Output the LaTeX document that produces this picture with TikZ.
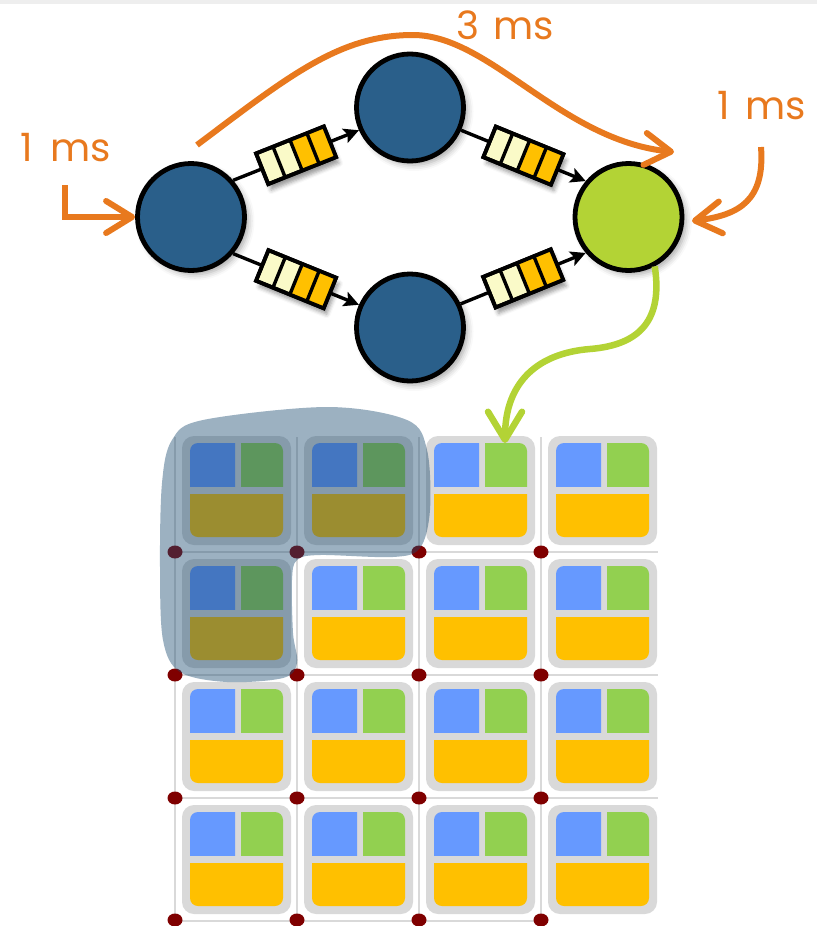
\documentclass[tikz,border=0pt]{standalone}
\usepackage{fontspec}
\setmainfont{Poppins}
\usetikzlibrary{arrows.meta,shadows.blur,calc}

\definecolor{nodeblue}{HTML}{2A5F8A}
\definecolor{nodegreen}{HTML}{B3D335}
\definecolor{latency}{HTML}{E8791E}
\definecolor{qpale}{HTML}{FAFAC8}
\definecolor{qgold}{HTML}{FFC000}
\definecolor{tgray}{HTML}{D9D9D9}
\definecolor{tblue}{HTML}{6699FF}
\definecolor{tgreen}{HTML}{92D050}
\definecolor{tyellow}{HTML}{FFC000}
\definecolor{dotred}{HTML}{7F0000}
\definecolor{region}{HTML}{194A70}
\definecolor{stripgray}{HTML}{EEEEEE}

\pgfdeclarelayer{curves}
\pgfsetlayers{main,curves}

\tikzset{
  op/.style={circle, draw=black, line width=4.8pt, minimum size=107pt, inner sep=0pt,
    blur shadow={shadow xshift=4pt, shadow yshift=-4pt, shadow blur radius=6pt, shadow opacity=35}},
  opblue/.style={op, fill=nodeblue},
  opgreen/.style={op, fill=nodegreen},
  link/.style={draw=black, line width=3.4pt, -{Stealth[length=15pt,width=15pt,inset=3pt]}},
  queue/.style={draw=black, line width=3.8pt, minimum width=73pt, minimum height=33pt,
    inner sep=0pt, outer sep=0pt, sloped, fill=qpale,
    blur shadow={shadow xshift=3pt, shadow yshift=-6pt, shadow blur radius=4pt, shadow opacity=40}},
  qcell/.style={fill=qgold},
  qbar/.style={draw=black, line width=3.4pt},
  qframe/.style={draw=black, line width=3.8pt, line join=miter},
  lat/.style={draw=latency, line width=6pt,
    -{Straight Barb[length=26pt,width=32pt,round]}},
  hand/.style={draw=nodegreen, line width=6.5pt,
    -{Straight Barb[length=28pt,width=34pt,round]}},
  lbl/.style={text=latency, inner sep=0pt, font=\fontsize{39}{41}\selectfont},
  gridline/.style={draw=tgray, line width=2.8pt},
  gridpin/.style={fill=dotred},
  tile/.pic={
    \fill[tgray] [rounded corners=12pt] (0,0) rectangle (109,109);
    \begin{scope}
      \clip (8,7) rectangle (53,50);
      \fill[tblue] [rounded corners=8pt] (8,7) rectangle (101,101);
    \end{scope}
    \begin{scope}
      \clip (59,7) rectangle (101,50);
      \fill[tgreen] [rounded corners=8pt] (8,7) rectangle (101,101);
    \end{scope}
    \begin{scope}
      \clip (8,58) rectangle (101,101);
      \fill[tyellow] [rounded corners=8pt] (8,7) rectangle (101,101);
    \end{scope}
  }
}

\begin{document}
\begin{tikzpicture}[x=1pt,y=-1pt]
  \useasboundingbox (0,0) rectangle (817,926);
  \fill[stripgray] (0,0) rectangle (817,4);

  % processing grid
  \foreach \x in {175,297,419,541}
    \draw[gridline] (\x,437) -- (\x,920);
  \foreach \y in {552,675,798}
    \draw[gridline] (175,\y) -- (658,\y);
  \draw[gridline] (175,921) -- (541,921);
  \foreach \c in {0,...,3}
    \foreach \r in {0,...,3}
      \pic at ({182+122*\c},{436+123*\r}) {tile};
  \foreach \x in {175,297,419,541}
    \foreach \y in {552,675,798,920}
      \fill[gridpin] (\x,\y) ellipse [x radius=7.5pt, y radius=6.5pt];
  % occupied partition
  \fill[region, fill opacity=0.43] plot[smooth cycle, tension=0.55] coordinates {
    (172,440) (203,420) (327,407) (407,420) (427,450) (430,510)
    (420,548) (393,557) (320,555) (297,560) (292,580) (293,633)
    (297,663) (283,678) (227,682) (180,672) (163,640) (160,567) (162,483)};

  % operators
  \node[opblue]  (A) at (191,217)   {};
  \node[opblue]  (B) at (410,107.5) {};
  \node[opblue]  (C) at (410,327.5) {};
  \node[opgreen] (D) at (628.5,217) {};

  % channels with their queues
  \draw[link] (A.41)  -- node[queue] (qAB) {} (B.-156);
  \draw[link] (A.-41) -- node[queue] (qAC) {} (C.156);
  \draw[link] (B.-24) -- node[queue] (qBD) {} (D.140);
  \draw[link] (C.25)  -- node[queue] (qCD) {} (D.-140);

  % queue slots: two free, two filled
  \foreach \q in {qAB,qAC,qBD,qCD} {
    \fill[qcell] (\q.south) -- (\q.south east) -- (\q.north east) -- (\q.north) -- cycle;
    \foreach \f in {0.25,0.5,0.75}
      \draw[qbar] ($(\q.south west)!\f!(\q.south east)$) -- ($(\q.north west)!\f!(\q.north east)$);
    \draw[qframe] (\q.south west) -- (\q.south east) -- (\q.north east) -- (\q.north west) -- cycle;
  }

  % latency annotations
  \coordinate (inStart)  at (65,185);
  \coordinate (pathStart) at (197,145);
  \coordinate (pathPeak)  at (413,35);
  \coordinate (pathEnd)   at (674,152);
  \coordinate (outStart)  at (761,147);
  \coordinate (outEnd)    at (692,221);
  \coordinate (tileTop)   at (505,443);

  \begin{pgfonlayer}{curves}
    \draw[lat] (inStart) |- (A.west);
    \draw[lat] (pathStart) .. controls (290,75) and (340,35) .. (pathPeak)
                           .. controls (490,35) and (560,140) .. (pathEnd);
    \draw[lat] (outStart) .. controls (765,200) and (740,215) .. (outEnd);
    \draw[hand] (D.-62) .. controls (663,320) and (640,345) .. (590,349)
                        .. controls (540,353) and (505,380) .. (tileTop);
  \end{pgfonlayer}

  \node[lbl] (tPath) at (505,25)  {3\hspace{4pt} ms};
  \node[lbl] (tIn)   at (66,148)  {1\hspace{7pt} ms};
  \node[lbl] (tOut)  at (762,106) {1\hspace{5pt} ms};
\end{tikzpicture}
\end{document}
